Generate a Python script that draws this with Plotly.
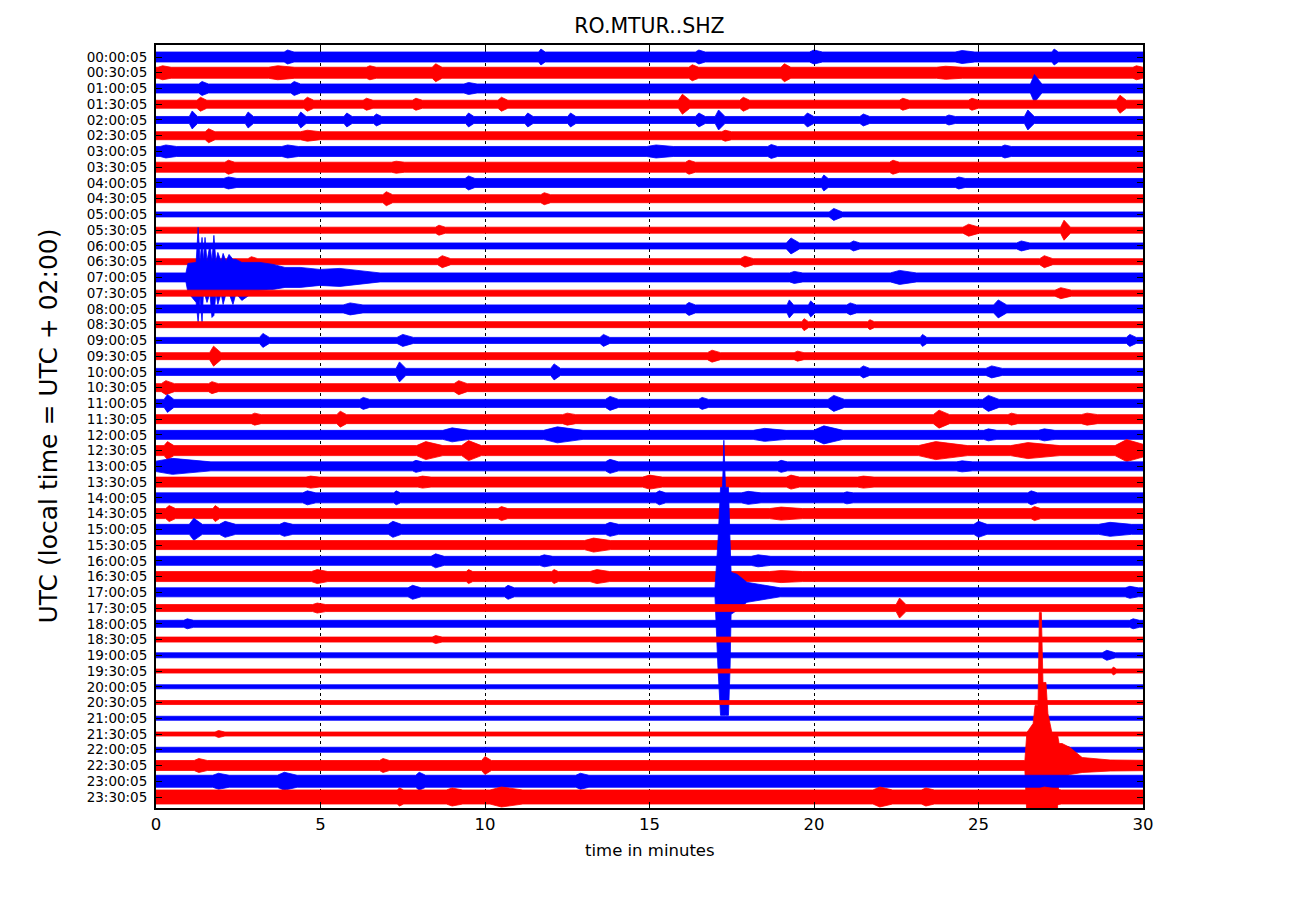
import plotly.graph_objects as go

# 48 half-hour rows of a one-day seismogram (RO.MTUR..SHZ)
ROW_LABELS = [
    "00:00:05", "00:30:05", "01:00:05", "01:30:05", "02:00:05", "02:30:05",
    "03:00:05", "03:30:05", "04:00:05", "04:30:05", "05:00:05", "05:30:05",
    "06:00:05", "06:30:05", "07:00:05", "07:30:05", "08:00:05", "08:30:05",
    "09:00:05", "09:30:05", "10:00:05", "10:30:05", "11:00:05", "11:30:05",
    "12:00:05", "12:30:05", "13:00:05", "13:30:05", "14:00:05", "14:30:05",
    "15:00:05", "15:30:05", "16:00:05", "16:30:05", "17:00:05", "17:30:05",
    "18:00:05", "18:30:05", "19:00:05", "19:30:05", "20:00:05", "20:30:05",
    "21:00:05", "21:30:05", "22:00:05", "22:30:05", "23:00:05", "23:30:05",
]
ROW_COLORS = ["#0000ff", "#ff0000"]

# background noise level (half amplitude) of each row
NOISE = [5, 5.5, 4.5, 4, 3.5, 4, 5, 5, 4.5, 4, 2.5, 3, 3, 3, 4.5, 3,
         4, 3, 3, 3.5, 3.5, 4, 4, 4.5, 4.5, 5, 4.5, 5, 5, 5, 5, 4.5,
         4.5, 5, 4.5, 3.5, 3.5, 2.5, 2.5, 2, 2, 2, 2, 2, 2.5, 5, 6, 7]

# small bursts per row: (minute, peak amplitude, duration in minutes)
BURSTS = {
    0: [(4.0, 7, 0.3), (11.7, 8, 0.2), (16.5, 7, 0.3), (20.0, 7, 0.4), (24.5, 6.5, 0.6), (27.3, 8, 0.2)],
    1: [(0.2, 7, 0.4), (3.7, 7, 0.8), (6.5, 7, 0.3), (8.5, 9, 0.3), (16.3, 8, 0.3), (19.1, 9, 0.3),
        (24.0, 6.5, 0.8), (29.8, 7, 0.3)],
    2: [(1.4, 7, 0.3), (4.2, 7, 0.3), (9.5, 6, 0.4), (26.7, 14, 0.35)],
    3: [(1.35, 7, 0.3), (4.6, 7, 0.3), (6.4, 6, 0.3), (7.9, 6, 0.3), (10.5, 7, 0.3), (16.0, 10, 0.35),
        (17.85, 7, 0.3), (22.7, 6, 0.3), (24.8, 6, 0.3), (29.3, 9, 0.3)],
    4: [(1.1, 9, 0.25), (2.8, 8, 0.25), (4.4, 8, 0.25), (5.8, 7, 0.25), (6.7, 6, 0.25), (9.5, 7, 0.25),
        (11.3, 7, 0.25), (12.6, 7, 0.25), (16.5, 7, 0.3), (17.1, 10, 0.3), (19.8, 7, 0.3),
        (21.5, 6, 0.3), (24.1, 5, 0.3), (26.5, 10, 0.3)],
    5: [(1.6, 7, 0.3), (4.6, 5.5, 0.6), (17.3, 5.5, 0.3)],
    6: [(0.3, 6.5, 0.5), (4.0, 6.5, 0.5), (15.2, 6.5, 0.8), (18.7, 7, 0.3), (25.8, 6.5, 0.3)],
    7: [(2.2, 7, 0.3), (7.3, 6, 0.4), (16.2, 7, 0.3), (22.4, 7, 0.3)],
    8: [(2.2, 6, 0.4), (9.5, 7, 0.3), (20.3, 8, 0.2), (24.4, 6, 0.3)],
    9: [(7.0, 7, 0.3), (11.8, 6, 0.3)],
    10: [(20.6, 6, 0.4)],
    11: [(8.6, 5, 0.3), (24.7, 6, 0.5), (27.6, 10, 0.3)],
    12: [(19.3, 8, 0.4), (21.2, 5, 0.3), (26.3, 5, 0.4)],
    13: [(2.9, 5, 0.3), (8.7, 6, 0.4), (17.9, 5.5, 0.4), (27.0, 6, 0.4)],
    14: [(19.4, 6, 0.4), (22.6, 7, 0.8)],
    15: [(27.5, 5.5, 0.5)],
    16: [(5.9, 6, 0.6), (16.2, 6.5, 0.3), (19.25, 9, 0.2), (19.9, 8, 0.2), (21.1, 6, 0.3), (25.6, 9, 0.4)],
    17: [(19.7, 6, 0.2), (21.7, 5, 0.2)],
    18: [(3.25, 7, 0.3), (7.5, 6, 0.5), (13.6, 6, 0.3), (23.3, 6, 0.2), (29.6, 6, 0.3)],
    19: [(1.75, 10, 0.35), (16.9, 6, 0.4), (19.5, 5, 0.3)],
    20: [(7.4, 10, 0.3), (12.1, 8, 0.3), (21.5, 6, 0.3), (25.4, 6, 0.5)],
    21: [(0.3, 7, 0.4), (1.7, 6, 0.3), (9.2, 7, 0.4)],
    22: [(0.35, 9, 0.3), (6.3, 6, 0.3), (13.8, 7, 0.4), (16.6, 6, 0.3), (20.6, 8, 0.5), (25.3, 8, 0.5)],
    23: [(3.0, 6, 0.3), (5.6, 8, 0.3), (12.5, 6, 0.4), (23.8, 9, 0.5), (26.0, 6, 0.3), (28.3, 6, 0.5)],
    24: [(9.0, 7, 0.8), (12.2, 8, 1.2), (18.5, 6.5, 1.0), (20.3, 9, 0.9), (25.3, 6, 0.4), (27.0, 6, 0.5)],
    25: [(0.35, 9, 0.3), (8.2, 9, 0.8), (9.5, 10, 0.6), (23.7, 9, 1.5), (26.5, 8, 1.5), (29.5, 11, 1.0)],
    26: [(0.5, 8, 1.8), (7.9, 6, 0.3), (13.8, 7, 0.4), (19.0, 6, 0.3), (24.5, 5.5, 0.5)],
    27: [(4.7, 6, 0.4), (8.1, 6, 0.4), (15.0, 7, 0.6), (19.3, 7, 0.4), (21.5, 6, 0.5)],
    28: [(4.6, 7, 0.4), (7.3, 7, 0.2), (15.3, 7, 0.3), (18.0, 6.5, 0.6), (21.0, 6, 0.3), (26.6, 7, 0.3)],
    29: [(0.4, 8, 0.3), (1.8, 8, 0.2), (10.5, 7, 0.3), (19.0, 6.5, 1.0), (26.7, 7, 0.3)],
    30: [(1.15, 11, 0.4), (2.1, 8, 0.5), (3.9, 7, 0.4), (7.2, 8, 0.4), (13.8, 7, 0.4), (25.0, 8, 0.4),
         (29.0, 7, 1.0)],
    31: [(13.3, 7, 0.8)],
    32: [(8.5, 7, 0.4), (11.8, 6, 0.4), (18.3, 6, 0.6)],
    33: [(4.9, 7, 0.5), (9.5, 7, 0.2), (12.1, 7, 0.2), (13.4, 7, 0.6), (19.0, 6, 1.0)],
    34: [(7.8, 7, 0.4), (10.7, 7, 0.3), (29.6, 6, 0.4)],
    35: [(4.9, 5, 0.4), (22.6, 10, 0.3)],
    36: [(0.95, 5, 0.3), (29.7, 5, 0.3)],
    37: [(8.5, 4, 0.3)],
    38: [(28.9, 5, 0.4)],
    39: [(29.1, 4, 0.15)],
    43: [(1.9, 3.5, 0.3)],
    44: [(27.6, 4, 0.3)],
    45: [(1.3, 7, 0.4), (6.9, 7, 0.3), (10.0, 9, 0.3)],
    46: [(1.9, 8, 0.5), (3.9, 9, 0.6), (8.0, 9, 0.3), (12.9, 8, 0.4)],
    47: [(7.4, 9, 0.2), (9.0, 9, 0.5), (10.5, 10, 1.0), (22.0, 10, 0.6), (23.4, 9, 0.4), (27.0, 10, 0.8)],
}

# the three earthquakes: envelope above / below the trace
QUAKE_A_ROW = 14
QUAKE_A_T = [0.91, 0.97, 1.22, 1.28, 1.34, 1.40, 1.44, 1.49, 1.55, 1.64, 1.70, 1.76, 1.82, 1.88, 1.98,
             2.04, 2.13, 2.22, 2.34, 2.43, 2.61, 2.95, 3.16, 3.56, 3.92, 4.38, 4.98, 5.59, 6.20, 6.81]
QUAKE_A_UP = [4.5, 14, 15, 50, 16, 40, 16, 40, 16, 33, 16, 42, 16, 25, 16,
              24, 16, 23, 18, 18, 15, 15, 15, 13, 10, 10, 8, 9, 7, 4.5]
QUAKE_A_DOWN = [4.5, 15, 25, 45, 20, 45, 16, 18, 25, 16, 40, 38, 16, 27, 16,
                27, 16, 16, 27, 16, 23, 15, 13, 12, 10, 10, 8, 9, 7, 4.5]

QUAKE_B_ROW = 34
QUAKE_B_T = [16.99, 17.08, 17.16, 17.22, 17.26, 17.31, 17.40, 17.45, 17.48, 17.66, 17.96, 18.51, 18.97]
QUAKE_B_UP = [4.5, 50, 105, 105, 152, 105, 105, 50, 20, 18, 10, 7, 4.5]
QUAKE_B_DOWN = [4.5, 75, 123, 123, 123, 123, 123, 75, 22, 18, 10, 7, 4.5]

QUAKE_C_ROW = 45
QUAKE_C_T = [26.41, 26.47, 26.66, 26.72, 26.81, 26.85, 26.91, 26.96, 27.05, 27.11, 27.23, 27.39,
             27.45, 27.54, 27.78, 28.15, 29.0]
QUAKE_C_UP = [5, 33, 42, 60, 60, 153, 153, 83, 83, 52, 33, 33, 22, 22, 18, 8, 5.5]
QUAKE_C_DOWN = [5, 50, 50, 50, 50, 50, 50, 50, 50, 50, 50, 50, 12, 12, 9, 7, 5.5]

QUAKES = [
    (QUAKE_A_ROW, QUAKE_A_T, QUAKE_A_UP, QUAKE_A_DOWN),
    (QUAKE_B_ROW, QUAKE_B_T, QUAKE_B_UP, QUAKE_B_DOWN),
    (QUAKE_C_ROW, QUAKE_C_T, QUAKE_C_UP, QUAKE_C_DOWN),
]

AMP_PER_ROW = 15.74  # amplitude units per row spacing
FONT = "DejaVu Sans"
# page body has an 8px margin, so the figure is a bit smaller than the window
FIG_W, FIG_H = 1292, 892


def envelope(row):
    base = NOISE[row]
    nodes = [(-0.5, base, base), (30.5, base, base)]
    for t, a, d in BURSTS.get(row, []):
        nodes += [(t - 0.35 * d, base, base), (t, a, a), (t + 0.65 * d, base, base)]
    for qrow, qt, qup, qdown in QUAKES:
        if qrow == row:
            nodes += list(zip(qt, qup, qdown))
    nodes.sort()
    ts = [n[0] for n in nodes]
    top = [row - n[1] / AMP_PER_ROW for n in nodes]
    bot = [row + n[2] / AMP_PER_ROW for n in nodes]
    return ts + ts[::-1], top + bot[::-1]


fig = go.Figure()
for i in range(len(ROW_LABELS)):
    xs, ys = envelope(i)
    c = ROW_COLORS[i % 2]
    fig.add_trace(go.Scatter(
        x=xs, y=ys, mode="lines", fill="toself", fillcolor=c,
        line=dict(color=c, width=0.8), hoverinfo="skip", showlegend=False))

fig.update_layout(
    width=FIG_W, height=FIG_H,
    margin=dict(l=148, r=157, t=37, b=92),
    paper_bgcolor="white", plot_bgcolor="white",
    font=dict(family=FONT, color="black"),
    title=dict(text="RO.MTUR..SHZ", font=dict(size=20.5, family=FONT, color="black"),
               x=0.5, xref="paper", xanchor="center",
               y=1 - 18 / FIG_H, yref="container", yanchor="middle"),
)
fig.update_xaxes(
    range=[0, 30], tickvals=[0, 5, 10, 15, 20, 25, 30],
    ticks="inside", ticklen=6, tickwidth=1, tickcolor="black",
    showline=True, linewidth=2, linecolor="black", mirror="ticks",
    showgrid=True, gridcolor="black", griddash="dot", gridwidth=1,
    zeroline=False, tickfont=dict(size=16.5, family=FONT, color="black"),
    ticklabelstandoff=0,
)
fig.update_yaxes(
    range=[47 + 11 / AMP_PER_ROW, -12 / AMP_PER_ROW],
    tickvals=list(range(len(ROW_LABELS))), ticktext=ROW_LABELS,
    ticks="inside", ticklen=6, tickwidth=1, tickcolor="black",
    showline=True, linewidth=2, linecolor="black", mirror="ticks",
    showgrid=False, zeroline=False,
    tickfont=dict(size=13.5, family=FONT, color="black"),
    ticklabelstandoff=4,
)
fig.add_annotation(text="time in minutes", xref="paper", yref="paper",
                   x=0.5, y=-42 / 763, xanchor="center", yanchor="middle",
                   showarrow=False, font=dict(size=16.5, family=FONT, color="black"))
fig.add_annotation(text="UTC (local time = UTC + 02:00)", xref="paper", yref="paper",
                   x=-108 / 987, y=0.5, xanchor="center", yanchor="middle", textangle=-90,
                   showarrow=False, font=dict(size=25, family=FONT, color="black"))

fig.write_html("out.html")
